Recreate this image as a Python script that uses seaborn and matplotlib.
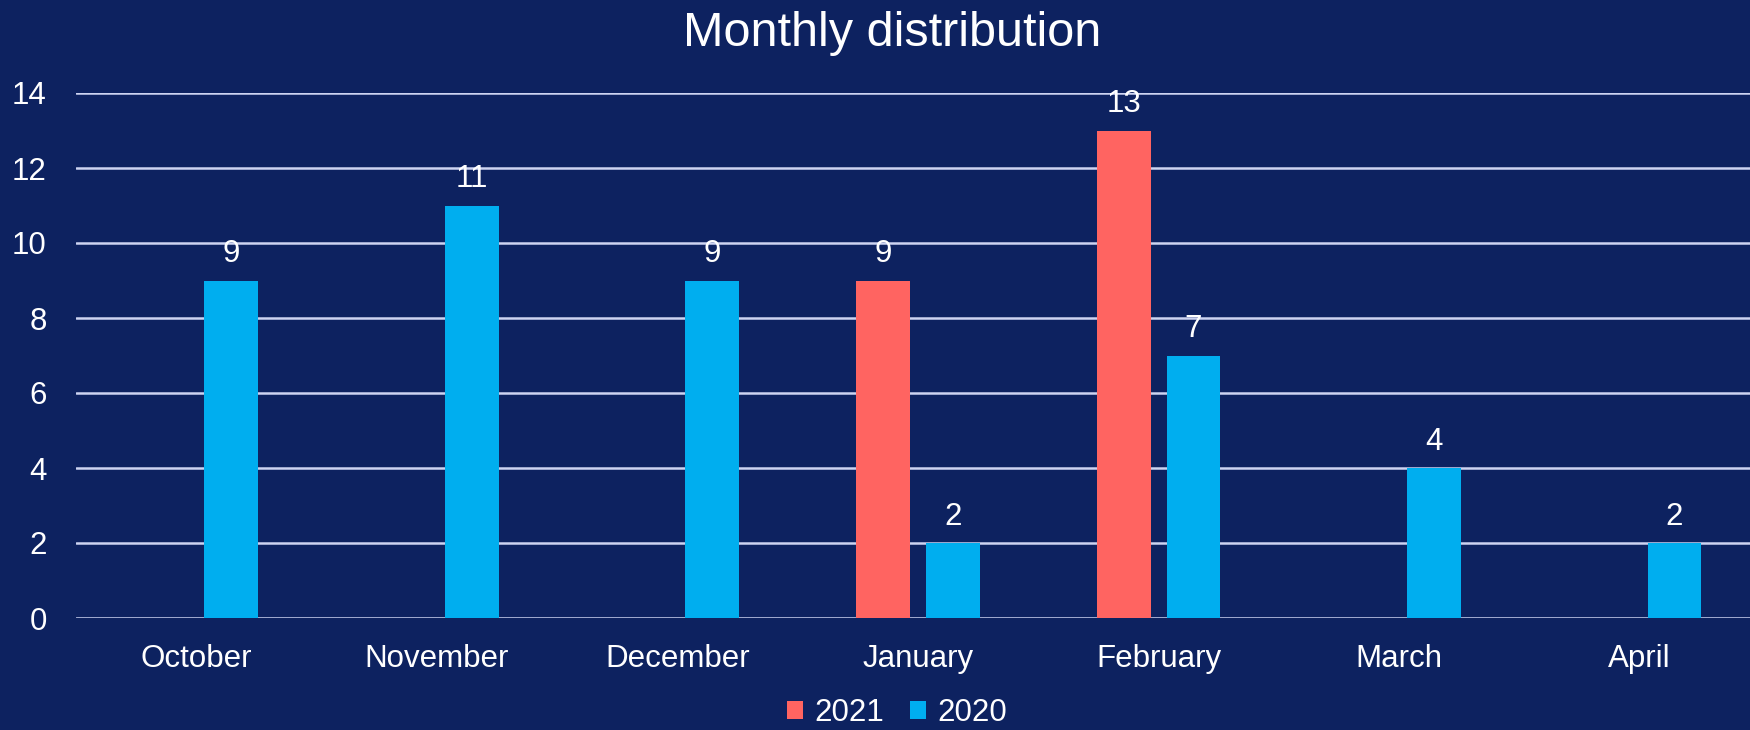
import pandas as pd
import matplotlib
matplotlib.use("Agg")
import matplotlib.pyplot as plt
from matplotlib.patches import Patch
import seaborn as sns

# chart data
months = ["October", "November", "December", "January", "February", "March", "April"]
years = ["2021", "2020"]
counts_2021 = {"January": 9, "February": 13}
counts_2020 = [9, 11, 9, 2, 7, 4, 2]

bg = "#0D2260"
grid_col = "#CDD4F2"
colors = {"2021": "#FF6461", "2020": "#00AEEF"}

rows = [{"month": m, "year": "2021", "count": v} for m, v in counts_2021.items()]
rows += [{"month": m, "year": "2020", "count": v} for m, v in zip(months, counts_2020)]
df = pd.DataFrame(rows)

sns.set_style("white")
plt.rcParams["font.family"] = ["Liberation Sans", "DejaVu Sans"]

fs = 22.5
fig = plt.figure(figsize=(17.5, 7.3), dpi=100, facecolor=bg)
ax = fig.add_axes([76 / 1750, 112 / 730, 1684 / 1750, 525 / 730])
ax.set_facecolor(bg)

sns.barplot(data=df, x="month", y="count", hue="year", order=months, hue_order=years,
            palette=colors, width=0.58, gap=0.23, saturation=1, errorbar=None,
            legend=False, ax=ax, zorder=3, edgecolor="none", linewidth=0)

for c in ax.containers:
    ax.bar_label(c, padding=8, color="white", fontsize=fs)

ax.set_xlim(-0.5, 6.5)
ax.set_ylim(0, 14)
ax.set_yticks(range(0, 15, 2))
ax.yaxis.grid(True, color=grid_col, linewidth=1.8, zorder=0)
ax.set_axisbelow(True)
for s in ax.spines.values():
    s.set_visible(False)
ax.tick_params(axis="y", length=0, pad=21, labelsize=fs, labelcolor="white")
ax.tick_params(axis="x", length=0, pad=19, labelsize=fs, labelcolor="white")
ax.set_xlabel("")
ax.set_ylabel("")

fig.text(0.51, 1 - 33 / 730, "Monthly distribution", color="white", fontsize=35,
         ha="center", va="center")

handles = [Patch(facecolor=colors[y], edgecolor="none", label=y) for y in years]
leg = fig.legend(handles=handles, loc="center", bbox_to_anchor=(0.5126, 1 - 713 / 730),
                 ncol=2, frameon=False, fontsize=fs, handlelength=0.5, handleheight=0.5,
                 handletextpad=0.35, columnspacing=0.85, borderpad=0)
for t in leg.get_texts():
    t.set_color("white")

fig.savefig("out.png", dpi=100, facecolor=bg)
